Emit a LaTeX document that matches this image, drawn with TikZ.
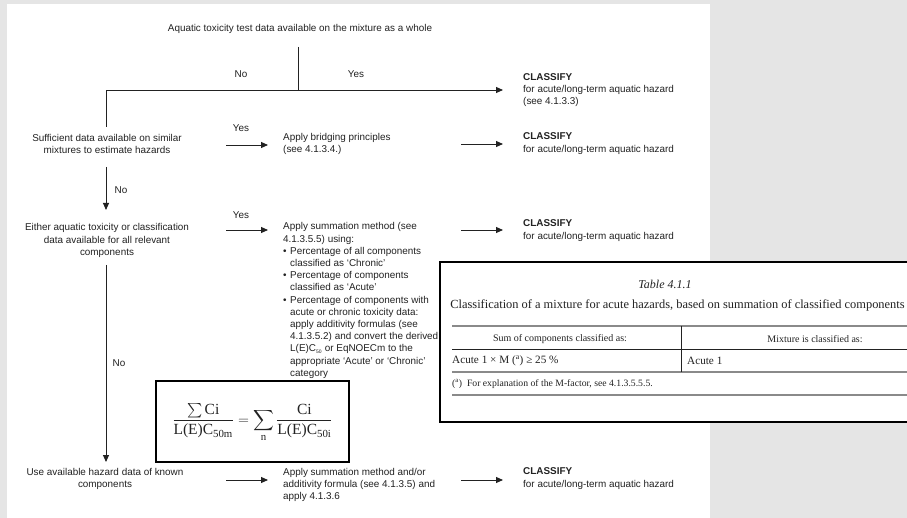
\documentclass[tikz,border=0pt]{standalone}
\usepackage{fontspec}
\usepackage{amsmath}
\setmainfont{Liberation Serif}
\newfontfamily\hv{Liberation Sans}
\newfontfamily\tabfont{Liberation Serif}
\usetikzlibrary{arrows.meta}
\definecolor{pagebg}{HTML}{E5E5E5}
\definecolor{ink}{HTML}{222222}
\definecolor{rulegrey}{HTML}{8A8A8A}
\tikzset{
  flow/.style={font=\hv\fontsize{9.9}{12.2}\selectfont, text=ink, inner sep=0pt, align=center},
  flowl/.style={flow, align=left, anchor=west},
  conn/.style={draw=ink, line width=0.9pt},
  arr/.style={conn, -{Triangle[length=7pt,width=6pt]}},
  tab/.style={font=\tabfont\fontsize{11.2}{13}\selectfont, text=ink, inner sep=0pt},
}
\newcommand{\bul}{\makebox[7pt][l]{\textbullet}}
\newcommand{\ind}{\hspace*{7pt}}
\begin{document}
\begin{tikzpicture}[x=1pt,y=-1pt]
\useasboundingbox (0,0) rectangle (907,518);
\fill[pagebg] (0,0) rectangle (907,518);
\fill[white] (7,4) rectangle (710,518);

% title
\node[flow] (top) at (300,29) {Aquatic toxicity test data available on the mixture as a whole};
\coordinate (t1) at (298,47);
\coordinate (t2) at (298,90);
\coordinate (lcorner) at (106,90);
\coordinate (ldown) at (106,127);
\coordinate (r1) at (503,90);
\draw[conn] (t1) -- (t2);
\draw[conn] (ldown) -- (lcorner) -- (t2);
\draw[arr] (t2) -- (r1);
\node[flow] (no0) at (241,74) {No};
\node[flow] (yes0) at (356,74) {Yes};

% classify nodes
\node[flowl] (c1) at (523,90) {\textbf{CLASSIFY}\\for acute/long-term aquatic hazard\\(see 4.1.3.3)};
\node[flowl] (c2) at (523,143.5) {\textbf{CLASSIFY}\\for acute/long-term aquatic hazard};
\node[flowl] (c3) at (523,230.5) {\textbf{CLASSIFY}\\for acute/long-term aquatic hazard};
\node[flowl] (c4) at (523,478.5) {\textbf{CLASSIFY}\\for acute/long-term aquatic hazard};

% decisions
\node[flow] (d1) at (107,144) {Sufficient data available on similar\\mixtures to estimate hazards};
\node[flow] (d2) at (107,240.5) {Either aquatic toxicity or classification\\data available for all relevant\\components};
\node[flow] (d3) at (105,479) {Use available hazard data of known\\components};

% actions
\node[flowl] (a1) at (283,144) {Apply bridging principles\\(see 4.1.3.4.)};
\node[flowl] (a2) at (283,300.5) {Apply summation method (see\\4.1.3.5.5) using:\\
\bul Percentage of all components\\\ind classified as ‘Chronic’\\
\bul Percentage of components\\\ind classified as ‘Acute’\\
\bul Percentage of components with\\\ind acute or chronic toxicity data:\\\ind apply additivity formulas (see\\\ind 4.1.3.5.2) and convert the derived\\\ind L(E)C\textsubscript{\tiny 50} or EqNOECm to the\\\ind appropriate ‘Acute’ or ‘Chronic’\\\ind category};
\node[flowl] (a3) at (283,485) {Apply summation method and/or\\additivity formula (see 4.1.3.5) and\\apply 4.1.3.6};

% horizontal arrows
\coordinate (h1s) at (226,145); \coordinate (h1e) at (268,145);
\coordinate (h2s) at (226,230); \coordinate (h2e) at (268,230);
\coordinate (h3s) at (226,480); \coordinate (h3e) at (268,480);
\coordinate (k2s) at (461,144); \coordinate (k2e) at (503,144);
\coordinate (k3s) at (461,230); \coordinate (k3e) at (503,230);
\coordinate (k4s) at (461,480); \coordinate (k4e) at (503,480);
\draw[arr] (h1s) -- (h1e);
\draw[arr] (h2s) -- (h2e);
\draw[arr] (h3s) -- (h3e);
\draw[arr] (k2s) -- (k2e);
\draw[arr] (k3s) -- (k3e);
\draw[arr] (k4s) -- (k4e);
\node[flow] (yes1) at (241,128) {Yes};
\node[flow] (yes2) at (241,215) {Yes};

% vertical arrows
\coordinate (v1s) at (106,167); \coordinate (v1e) at (106,210);
\coordinate (v2s) at (106,265); \coordinate (v2e) at (106,462);
\draw[arr] (v1s) -- (v1e);
\draw[arr] (v2s) -- (v2e);
\node[flow] (no1) at (121,190) {No};
\node[flow] (no2) at (119,363) {No};

% formula box
\draw[draw=black, line width=1.3pt] (156,381) rectangle (349,462);
\node[inner sep=0pt, text=ink, font=\tabfont\fontsize{15.5}{18}\selectfont] (formula) at (252.5,423)
  {$\displaystyle \frac{\sum \text{Ci}}{\text{L(E)C}_{\text{50m}}} = \sum_{\text{n}} \frac{\text{Ci}}{\text{L(E)C}_{\text{50i}}}$};

% table box
\fill[white] (440,262) rectangle (907,422);
\draw[black, line width=2pt] (907,262) -- (440,262) -- (440,422) -- (907,422);
\node[tab, font=\tabfont\itshape\fontsize{12}{14}\selectfont] (tnum) at (665,284) {Table 4.1.1};
\node[tab, font=\tabfont\fontsize{12.4}{14}\selectfont] (ttitle) at (677.5,305) {Classification of a mixture for acute hazards, based on summation of classified components};
\draw[rulegrey, line width=1.3pt] (452,326) -- (907,326);
\draw[ink, line width=0.6pt] (452,349) -- (907,349);
\draw[rulegrey, line width=1.3pt] (452,372) -- (907,372);
\draw[rulegrey, line width=1.3pt] (452,395) -- (907,395);
\draw[ink, line width=0.6pt] (681,326) -- (681,372);
\node[tab, font=\tabfont\fontsize{10}{12}\selectfont] (h1) at (560,339) {Sum of components classified as:};
\node[tab, font=\tabfont\fontsize{10}{12}\selectfont] (h2) at (815,339) {Mixture is classified as:};
\node[tab, anchor=west] (r1a) at (452,361) {Acute 1 × M (\textsuperscript{a}) ≥ 25 \%};
\node[tab, anchor=west] (r1b) at (687,361) {Acute 1};
\node[tab, anchor=west, font=\tabfont\fontsize{9.7}{11}\selectfont] (fn) at (452,384) {(\textsuperscript{a})\enspace For explanation of the M-factor, see 4.1.3.5.5.5.};
\end{tikzpicture}
\end{document}
